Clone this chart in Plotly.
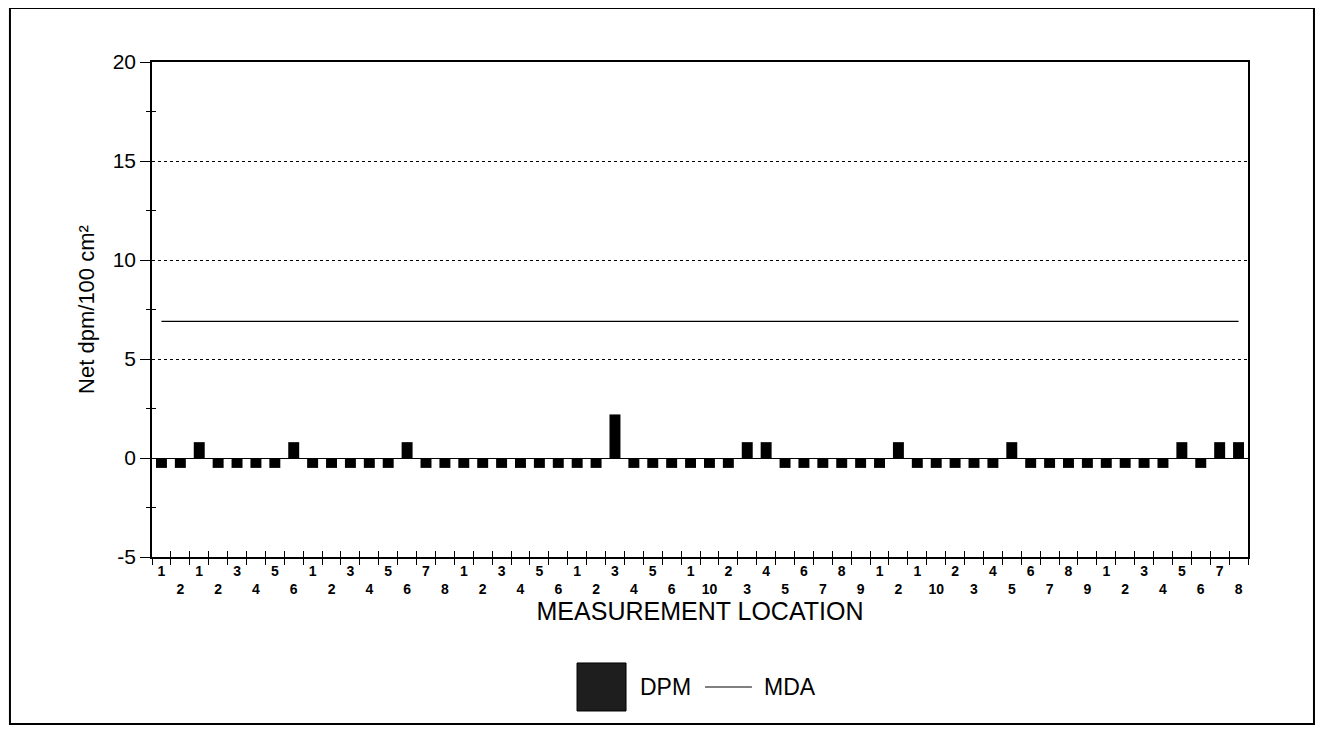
import plotly.graph_objects as go

# Measurement location labels (grouped, as printed on the axis)
location_labels = [
    "1", "2",
    "1", "2", "3", "4", "5", "6",
    "1", "2", "3", "4", "5", "6", "7", "8",
    "1", "2", "3", "4", "5", "6",
    "1", "2", "3", "4", "5", "6",
    "1", "10", "2", "3", "4", "5", "6", "7", "8", "9",
    "1", "2",
    "1", "10", "2", "3", "4", "5", "6", "7", "8", "9",
    "1", "2", "3", "4", "5", "6", "7", "8",
]

# Net dpm/100 cm2 per location
dpm_values = [
    -0.5, -0.5,
    0.8, -0.5, -0.5, -0.5, -0.5, 0.8,
    -0.5, -0.5, -0.5, -0.5, -0.5, 0.8, -0.5, -0.5,
    -0.5, -0.5, -0.5, -0.5, -0.5, -0.5,
    -0.5, -0.5, 2.2, -0.5, -0.5, -0.5,
    -0.5, -0.5, -0.5, 0.8, 0.8, -0.5, -0.5, -0.5, -0.5, -0.5,
    -0.5, 0.8,
    -0.5, -0.5, -0.5, -0.5, -0.5, 0.8, -0.5, -0.5, -0.5, -0.5,
    -0.5, -0.5, -0.5, -0.5, 0.8, -0.5, 0.8, 0.8,
]

mda_level = 6.9
mda_values = [mda_level] * len(location_labels)

y_major_ticks = [-5, 0, 5, 10, 15, 20]
y_minor_ticks = [-2.5, 2.5, 7.5, 12.5, 17.5]

positions = list(range(len(location_labels)))
boundaries = [p - 0.5 for p in positions] + [positions[-1] + 0.5]
tick_text = ["<b>" + lab + "</b>" if i % 2 == 0 else "<br><b>" + lab + "</b>"
             for i, lab in enumerate(location_labels)]
y_tick_text = [str(v) for v in y_major_ticks]

FONT = "Liberation Sans, Arial, sans-serif"

fig = go.Figure()
fig.add_trace(go.Bar(x=positions, y=dpm_values, marker=dict(color="black", line=dict(width=0)),
                     width=0.58, name="DPM", showlegend=False))
fig.add_trace(go.Scatter(x=positions, y=mda_values, mode="lines", line=dict(color="black", width=1.1),
                         name="MDA", showlegend=False))
# invisible trace to host overlay axes (inner halves of crossing ticks)
fig.add_trace(go.Scatter(x=[positions[0]], y=[0], xaxis="x2", yaxis="y2", mode="markers",
                         marker=dict(opacity=0), showlegend=False, hoverinfo="skip"))

fig.update_layout(
    width=1308, height=718,
    margin=dict(l=144, r=68, t=54, b=169),
    paper_bgcolor="white", plot_bgcolor="white",
    font=dict(family=FONT, color="black"),
    xaxis=dict(
        range=[-0.5, len(location_labels) - 0.5],
        tickmode="array", tickvals=positions, ticktext=tick_text,
        ticks="", showgrid=False, zeroline=False,
        showline=True, linecolor="black", linewidth=1.5, mirror=True,
        tickfont=dict(size=14, family=FONT, color="black"),
        minor=dict(tickmode="array", tickvals=boundaries, ticks="outside", ticklen=6,
                   tickcolor="black", tickwidth=1.2, showgrid=False),
        title=dict(text="MEASUREMENT LOCATION", font=dict(size=25, family=FONT), standoff=7),
    ),
    yaxis=dict(
        range=[-5, 20], tickmode="array", tickvals=y_major_ticks, ticktext=y_tick_text,
        ticks="outside", ticklen=10, tickcolor="black", tickwidth=1.2,
        showgrid=True, gridcolor="black", griddash="dot", gridwidth=1,
        zeroline=True, zerolinecolor="black", zerolinewidth=1.3,
        showline=True, linecolor="black", linewidth=1.5, mirror=True,
        tickfont=dict(size=21, family=FONT, color="black"),
        minor=dict(tickmode="array", tickvals=y_minor_ticks, ticks="outside", ticklen=4,
                   tickcolor="black", tickwidth=1.2, showgrid=False),
        title=dict(text="Net dpm/100 cm²", font=dict(size=22, family=FONT), standoff=12),
    ),
    xaxis2=dict(
        overlaying="x", matches="x", range=[-0.5, len(location_labels) - 0.5],
        tickmode="array", tickvals=boundaries, ticks="inside", ticklen=6,
        tickcolor="black", tickwidth=1.2, showticklabels=False, showgrid=False,
        zeroline=False, showline=False,
    ),
    yaxis2=dict(
        overlaying="y", range=[-5, 20],
        tickmode="array", tickvals=y_minor_ticks, ticks="inside", ticklen=4,
        tickcolor="black", tickwidth=1.2, showticklabels=False, showgrid=False,
        zeroline=False, showline=False,
    ),
)

# outer frame
fig.add_shape(type="rect", xref="paper", yref="paper",
              x0=-0.1296, x1=1.0602, y0=-0.3374, y1=1.109,
              line=dict(color="black", width=2), fillcolor="rgba(0,0,0,0)", layer="below")

# custom legend
fig.add_shape(type="rect", xref="paper", yref="paper",
              x0=0.3878, x1=0.4325, y0=-0.3111, y1=-0.2141,
              line=dict(color="black", width=1), fillcolor="#1e1e1e")
fig.add_annotation(xref="paper", yref="paper", x=0.4435, y=-0.2626, text="DPM",
                   showarrow=False, xanchor="left", yanchor="middle",
                   font=dict(size=23, family=FONT, color="black"))
fig.add_shape(type="line", xref="paper", yref="paper",
              x0=0.5046, x1=0.5474, y0=-0.2626, y1=-0.2626,
              line=dict(color="black", width=1.1))
fig.add_annotation(xref="paper", yref="paper", x=0.5566, y=-0.2626, text="MDA",
                   showarrow=False, xanchor="left", yanchor="middle",
                   font=dict(size=23, family=FONT, color="black"))

fig.write_html("out.html")
